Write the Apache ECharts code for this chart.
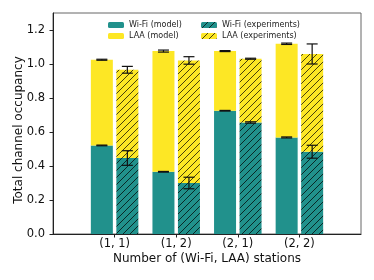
<!DOCTYPE html>
<html>
<head>
<meta charset="utf-8">
<script src="https://cdn.jsdelivr.net/npm/echarts@6/dist/echarts.min.js"></script>
<style>html,body{margin:0;padding:0;background:#fff}#c{width:374px;height:280px}</style>
</head>
<body>
<div id="c"></div>
<script>
// ---- data ----
var categories = ['(1, 1)', '(1, 2)', '(2, 1)', '(2, 2)'];
var wifiModel = [0.521, 0.366, 0.725, 0.568];
var laaModel = [0.504, 0.710, 0.351, 0.551];
var wifiExp = [0.447, 0.300, 0.656, 0.484];
var laaExp = [0.519, 0.721, 0.375, 0.575];
var wifiModelErr = [0.002, 0.002, 0.002, 0.003];
var totalModelErr = [0.003, 0.006, 0.003, 0.004];
var wifiExpErr = [0.043, 0.034, 0.004, 0.038];
var totalExpErr = [0.020, 0.022, 0.003, 0.059];
var yTicks = [0, 0.2, 0.4, 0.6, 0.8, 1.0, 1.2];

var TEAL = '#21918c', YELLOW = '#fde725';
var BAR_W = 22, BAR_GAP = 3.5;
var OFF = (BAR_W + BAR_GAP) / 2;

// padded category list so the axis runs one slot beyond each side (xlim -1..4)
var xCats = [''].concat(categories).concat(['']);
function pad(arr) { return [null].concat(arr).concat([null]); }

function hatch(base) {
  var T = 7;
  var c = document.createElement('canvas');
  c.width = T; c.height = T;
  var g = c.getContext('2d');
  g.fillStyle = base; g.fillRect(0, 0, T, T);
  g.strokeStyle = 'rgba(0,0,0,0.8)'; g.lineWidth = 0.9;
  for (var k = -T; k <= T; k += T) {
    g.beginPath(); g.moveTo(k, T); g.lineTo(k + T, 0); g.stroke();
  }
  return { image: c, repeat: 'repeat' };
}

function errPts(base, add, err, side) {
  return base.map(function (v, i) { return [i + 1, v + (add ? add[i] : 0), err[i], side]; });
}

function errRender(params, api) {
  var x = api.value(0), y = api.value(1), e = api.value(2), side = api.value(3);
  var p0 = api.coord([x, y - e]), p1 = api.coord([x, y + e]);
  var cx = p0[0] + side * OFF;
  var cw = 5.5;
  var st = { stroke: '#111', lineWidth: 1.2 };
  return { type: 'group', children: [
    { type: 'line', shape: { x1: cx, y1: p0[1], x2: cx, y2: p1[1] }, style: st },
    { type: 'line', shape: { x1: cx - cw, y1: p0[1], x2: cx + cw, y2: p0[1] }, style: st },
    { type: 'line', shape: { x1: cx - cw, y1: p1[1], x2: cx + cw, y2: p1[1] }, style: st }
  ]};
}

var FONT = 'DejaVu Sans';
var chart = echarts.init(document.getElementById('c'), null, { renderer: 'canvas' });
chart.setOption({
  animation: false,
  backgroundColor: '#fff',
  textStyle: { fontFamily: FONT },
  grid: { left: 53, right: 13, top: 13, bottom: 46, show: true, borderColor: '#666', borderWidth: 1,
    containLabel: false, outerBoundsMode: 'none' },
  legend: [
    { left: 103, top: 16, orient: 'vertical', itemWidth: 16, itemHeight: 6, itemGap: 3,
      textStyle: { fontFamily: FONT, fontSize: 8, color: '#222' },
      data: ['Wi-Fi (model)', 'LAA (model)'] },
    { left: 196, top: 16, orient: 'vertical', itemWidth: 16, itemHeight: 6, itemGap: 3,
      textStyle: { fontFamily: FONT, fontSize: 8, color: '#222' },
      data: ['Wi-Fi (experiments)', 'LAA (experiments)'] }
  ],
  xAxis: {
    type: 'category', data: xCats, boundaryGap: false,
    name: 'Number of (Wi-Fi, LAA) stations', nameLocation: 'middle', nameGap: 19, nameMoveOverlap: false,
    nameTextStyle: { fontFamily: FONT, fontSize: 12, color: '#111' },
    splitLine: { show: false },
    axisLine: { show: true, onZero: false, lineStyle: { color: '#222', width: 1 } },
    axisTick: { show: true, length: 3.5, lineStyle: { color: '#222' },
      interval: function (i, v) { return v !== ''; } },
    axisLabel: { interval: 0, fontFamily: FONT, fontSize: 11.5, color: '#111', margin: 4 }
  },
  yAxis: {
    type: 'value', min: 0, max: 1.3,
    name: 'Total channel occupancy', nameLocation: 'middle', nameGap: 28, nameMoveOverlap: false,
    nameTextStyle: { fontFamily: FONT, fontSize: 12, color: '#111', padding: [0, 13, 0, 0] },
    splitLine: { show: false },
    axisLine: { show: true, onZero: false, lineStyle: { color: '#222', width: 1 } },
    axisTick: { show: true, length: 3.5, customValues: yTicks, lineStyle: { color: '#222' } },
    axisLabel: { customValues: yTicks, fontFamily: FONT, fontSize: 11.5, color: '#111', margin: 8,
      formatter: function (v) { return v.toFixed(1); } }
  },
  series: [
    { name: 'Wi-Fi (model)', type: 'bar', stack: 'model', barWidth: BAR_W, barGap: (BAR_GAP / BAR_W * 100) + '%',
      data: pad(wifiModel), itemStyle: { color: TEAL } },
    { name: 'LAA (model)', type: 'bar', stack: 'model', barWidth: BAR_W,
      data: pad(laaModel), itemStyle: { color: YELLOW } },
    { name: 'Wi-Fi (experiments)', type: 'bar', stack: 'exp', barWidth: BAR_W,
      data: pad(wifiExp), itemStyle: { color: hatch(TEAL) } },
    { name: 'LAA (experiments)', type: 'bar', stack: 'exp', barWidth: BAR_W,
      data: pad(laaExp), itemStyle: { color: hatch(YELLOW) } },
    { type: 'custom', renderItem: errRender, z: 10, silent: true,
      data: errPts(wifiModel, null, wifiModelErr, -1)
        .concat(errPts(wifiModel, laaModel, totalModelErr, -1))
        .concat(errPts(wifiExp, null, wifiExpErr, 1))
        .concat(errPts(wifiExp, laaExp, totalExpErr, 1)) }
  ]
});
</script>
</body>
</html>
